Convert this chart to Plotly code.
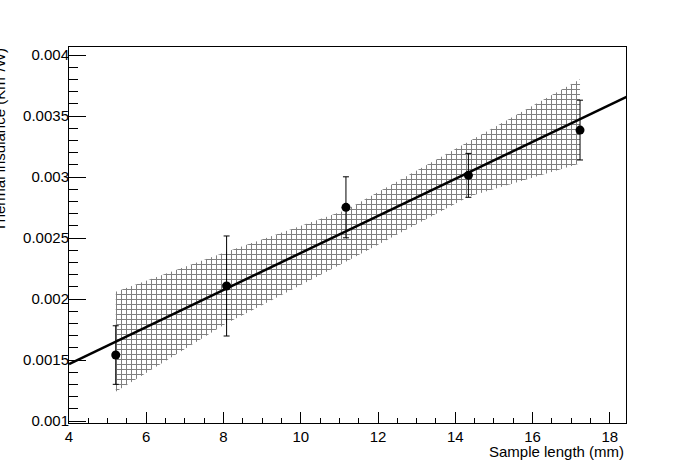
import plotly.graph_objects as go

# Data
length_mm = [5.21, 8.08, 11.17, 14.34, 17.23]
insulance = [0.001541, 0.002107, 0.002752, 0.003014, 0.003385]
insulance_err = [0.00024, 0.00041, 0.00025, 0.00018, 0.000245]

band_upper = [0.002060, 0.002388, 0.002730, 0.003289, 0.003801]
band_lower = [0.001240, 0.001801, 0.002306, 0.002839, 0.003112]

fit_x = [4.0, 18.45]
fit_y = [0.001467, 0.003660]

x_tickvals = [4, 6, 8, 10, 12, 14, 16, 18]
x_ticktext = ["4", "6", "8", "10", "12", "14", "16", "18"]
y_tickvals = [0.001, 0.0015, 0.002, 0.0025, 0.003, 0.0035, 0.004]
y_ticktext = ["0.001", "0.0015", "0.002", "0.0025", "0.003", "0.0035", "0.004"]

x_range = [4.0, 18.42]
y_range = [0.000984, 0.004066]

FONT = "Liberation Sans, Arial, Helvetica, sans-serif"

fig = go.Figure()

# hatched confidence band
fig.add_trace(go.Scatter(
    x=length_mm + length_mm[::-1],
    y=band_upper + band_lower[::-1],
    mode="lines",
    fill="toself",
    line=dict(width=0, color="rgba(0,0,0,0)"),
    fillcolor="rgba(0,0,0,0)",
    fillpattern=dict(shape="+", size=5, solidity=0.36,
                     fgcolor="#808080", bgcolor="rgba(0,0,0,0)", fillmode="replace"),
    hoverinfo="skip",
    showlegend=False,
))

# fit line
fig.add_trace(go.Scatter(
    x=fit_x, y=fit_y, mode="lines",
    line=dict(color="black", width=2.5),
    showlegend=False,
))

# data points
fig.add_trace(go.Scatter(
    x=length_mm, y=insulance, mode="markers",
    marker=dict(color="black", size=9),
    error_y=dict(type="data", array=insulance_err, color="black", thickness=1, width=3),
    showlegend=False,
))

fig.update_layout(
    width=696, height=472,
    margin=dict(l=69, r=70, t=47, b=49),
    paper_bgcolor="white", plot_bgcolor="white",
    font=dict(family=FONT, size=15, color="black"),
    xaxis=dict(
        range=x_range, tickvals=x_tickvals, ticktext=x_ticktext,
        showgrid=False, zeroline=False,
        showline=True, linecolor="black", linewidth=1, mirror=True,
        ticks="inside", ticklen=11, tickwidth=1, tickcolor="black",
        minor=dict(ticks="inside", ticklen=5, dtick=0.5, tick0=4, tickcolor="black", tickwidth=1, showgrid=False),
        tickfont=dict(family=FONT, size=15, color="black"),
    ),
    yaxis=dict(
        range=y_range, tickvals=y_tickvals, ticktext=y_ticktext,
        showgrid=False, zeroline=False,
        showline=True, linecolor="black", linewidth=1, mirror=True,
        ticks="inside", ticklen=17, tickwidth=1, tickcolor="black",
        minor=dict(ticks="inside", ticklen=9, dtick=0.0001, tick0=0.001, tickcolor="black", tickwidth=1, showgrid=False),
        tickfont=dict(family=FONT, size=15, color="black"),
        ticklabelstandoff=-4,
    ),
    annotations=[
        dict(text="Sample length (mm)", xref="paper", yref="paper",
             x=1.0, y=-0.0745, xanchor="right", yanchor="middle",
             showarrow=False, font=dict(family=FONT, size=15, color="black")),
        dict(text="Thermal insulance (Km<sup>2</sup>/W)", xref="paper", yref="paper",
             x=-71.0 / 557, y=1.0, xanchor="center", yanchor="top", textangle=-90,
             showarrow=False, font=dict(family=FONT, size=15, color="black")),
    ],
)

fig.write_html("out.html", config={"displayModeBar": False},
               post_script="document.body.style.margin='0px';")
